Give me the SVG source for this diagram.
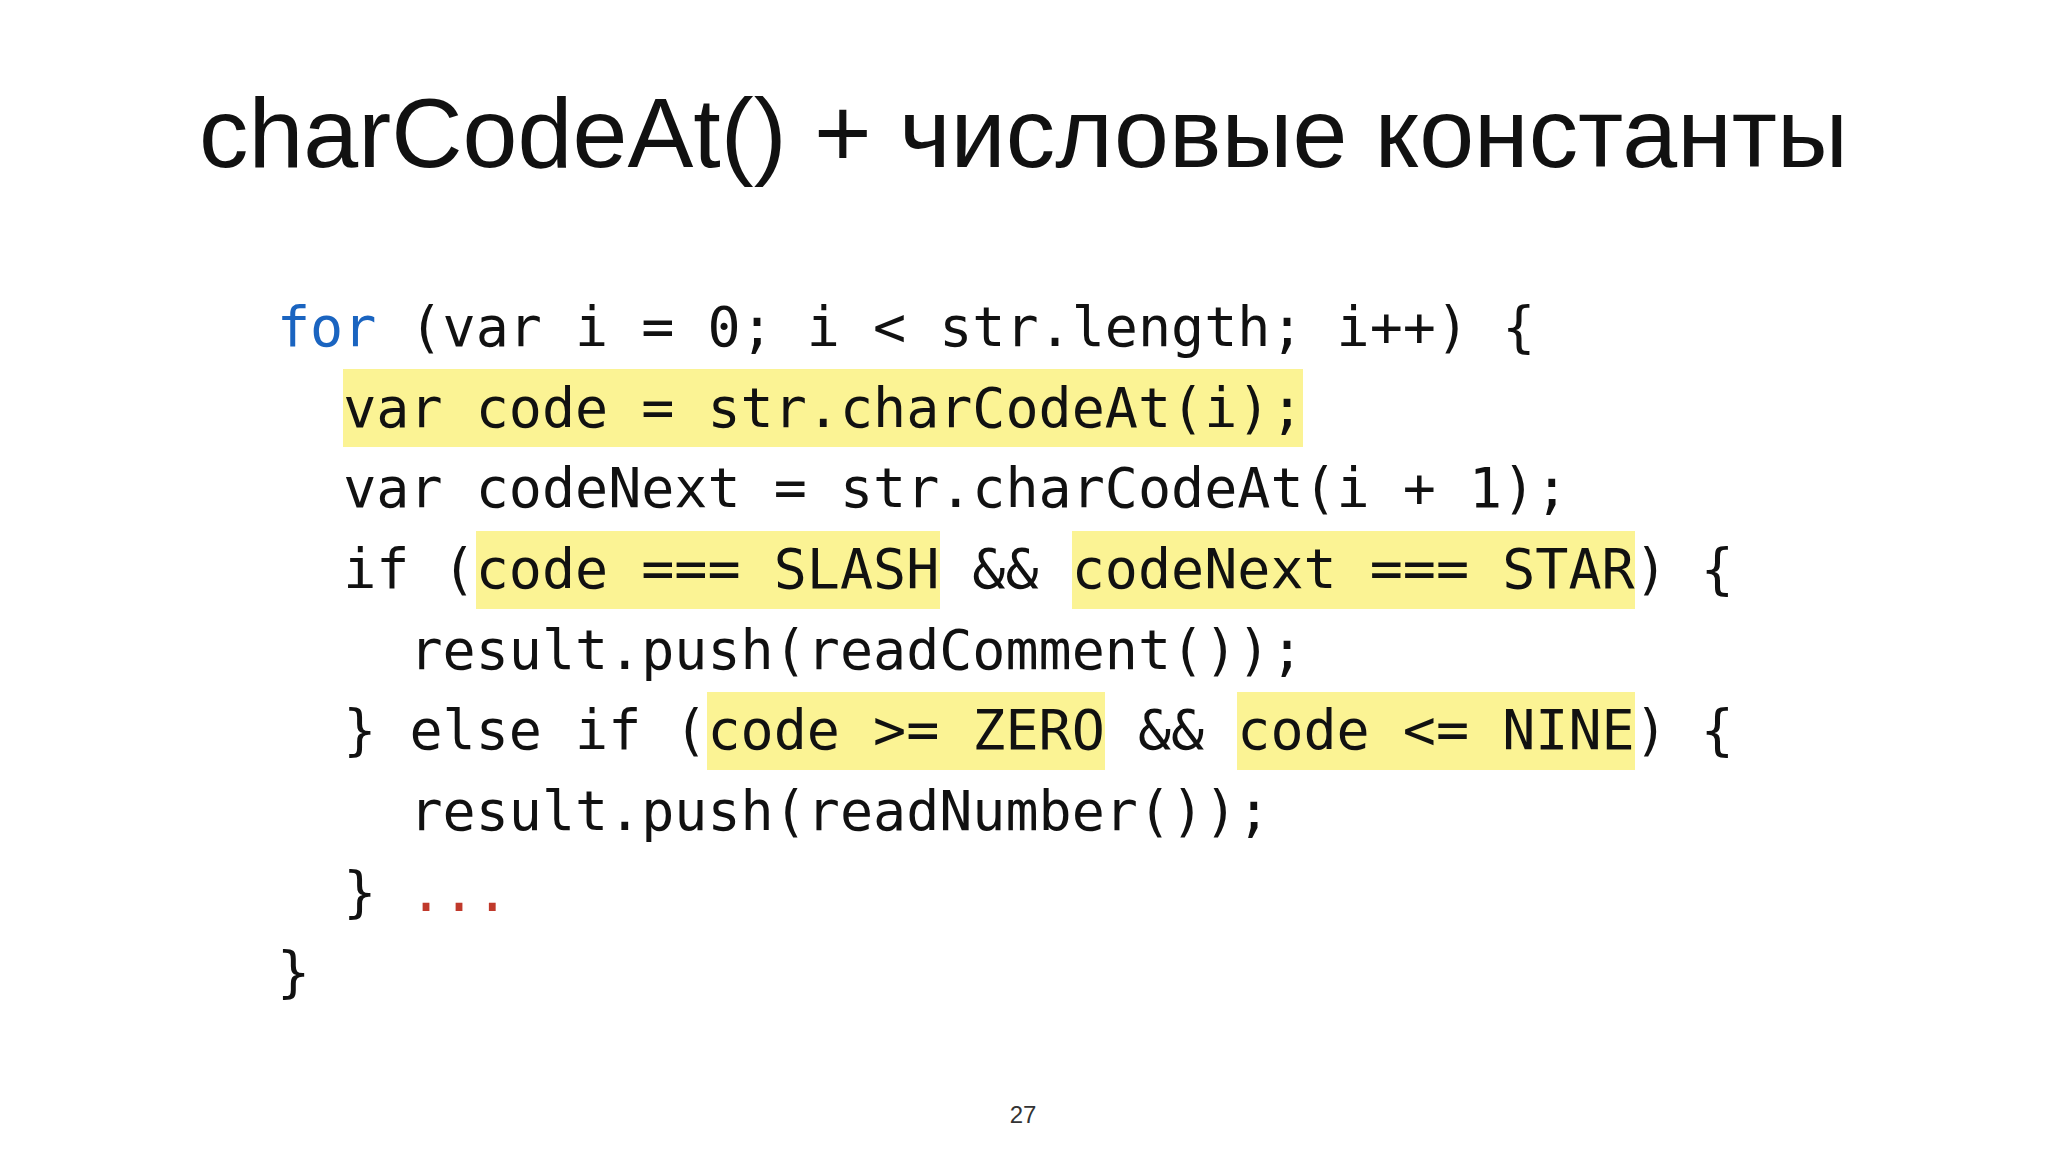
<svg xmlns="http://www.w3.org/2000/svg" width="2048" height="1152" viewBox="0 0 2048 1152">
<style>
.c{font-family:"DejaVu Sans Mono",monospace;font-size:55px;fill:#111;white-space:pre}
.h{fill:#fbf394}
</style>
<rect width="2048" height="1152" fill="#fff"/>
<text x="199" y="167" font-family="Liberation Sans,Arial,sans-serif" font-size="98" fill="#111" textLength="1649" lengthAdjust="spacingAndGlyphs">charCodeAt() + числовые константы</text>
<g id="highlights">
<rect class="h" x="343" y="369" width="960" height="78"/>
<rect class="h" x="476" y="531" width="464" height="78"/>
<rect class="h" x="1072" y="531" width="563" height="78"/>
<rect class="h" x="707" y="692" width="398" height="78"/>
<rect class="h" x="1237" y="692" width="398" height="78"/>
</g>
<g id="code">
<text class="c" x="277" y="346"><tspan fill="#1a64c0">for</tspan> (var i = 0; i &lt; str.length; i++) {</text>
<text class="c" x="277" y="427">  var code = str.charCodeAt(i);</text>
<text class="c" x="277" y="507">  var codeNext = str.charCodeAt(i + 1);</text>
<text class="c" x="277" y="588">  if (code === SLASH &amp;&amp; codeNext === STAR) {</text>
<text class="c" x="277" y="669">    result.push(readComment());</text>
<text class="c" x="277" y="749">  } else if (code &gt;= ZERO &amp;&amp; code &lt;= NINE) {</text>
<text class="c" x="277" y="830">    result.push(readNumber());</text>
<text class="c" x="277" y="911">  } <tspan fill="#c0392b">...</tspan></text>
<text class="c" x="277" y="991">}</text>
</g>
<text x="1023" y="1123" font-family="Liberation Sans,Arial,sans-serif" font-size="24" fill="#333" text-anchor="middle">27</text>
</svg>
